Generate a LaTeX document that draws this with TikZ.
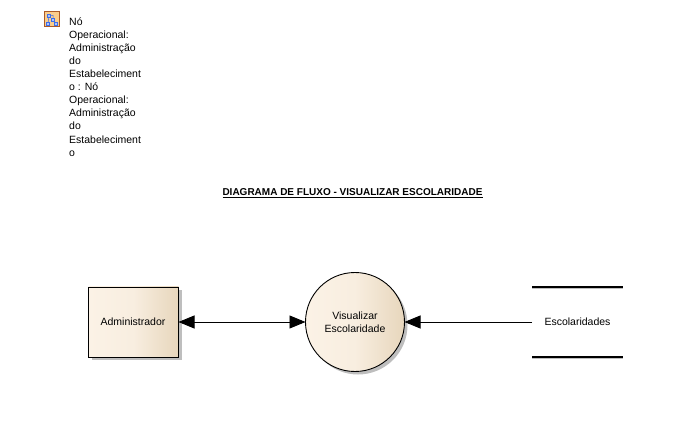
\documentclass[tikz,border=0pt]{standalone}
\usepackage{fontspec}
\setmainfont{Liberation Sans}
\usetikzlibrary{arrows.meta,shadows}
\definecolor{creamleft}{RGB}{251,242,230}
\definecolor{creamright}{RGB}{231,214,188}
\definecolor{shadowgray}{RGB}{190,190,190}
\definecolor{iconorange}{RGB}{250,205,140}
\definecolor{iconedge}{RGB}{170,90,40}
\definecolor{iconblue}{RGB}{60,110,235}
\tikzset{
         label text/.style={font=\fontsize{10.5}{13.1}\selectfont,align=center},
         cream fill/.style={left color=creamleft,right color=creamright,middle color=creamleft!85!creamright},
         flat shadow/.style={drop shadow={shadow xshift=3pt,shadow yshift=-3pt,fill=shadowgray,opacity=1}},
         flow/.style={line width=0.9pt,{Triangle[length=16pt,width=13pt]}-{Triangle[length=16pt,width=13pt]}},
         flow in/.style={line width=0.9pt,-{Triangle[length=16pt,width=13pt]}},
         tree box/.style={draw=iconblue,fill=white!60!iconblue,line width=0.5pt,minimum size=3pt,inner sep=0pt,outer sep=0pt}
        }

\begin{document}
\begin{tikzpicture}[x=1pt,y=-1pt]
\useasboundingbox (0,0) rectangle (694,422);
\node[draw=iconedge,fill=iconorange,line width=1pt,minimum size=15pt,inner sep=0pt,outer sep=0pt] (icon) at (52,19.5) {}; % icon
\node[tree box] (icontop) at (49,15.5) {}; % icon tree
\node[tree box] (iconmid) at (53,19.5) {}; % icon tree
\node[tree box] (iconleft) at (48,23.5) {}; % icon tree
\node[tree box] (iconright) at (56,23.5) {}; % icon tree
\draw[iconblue,line width=0.5pt](icontop)-|(iconmid)(icontop)--(iconleft)(iconmid)--(iconright); % icon wiring
\node[label text,align=left,anchor=north west,inner sep=0pt] (nodename) at (69,17.2) {N\'o\\Operacional:\\Administra\c{c}\~ao\\do\\Estabeleciment\\o : N\'o\\Operacional:\\Administra\c{c}\~ao\\do\\Estabeleciment\\o}; % element name
\node[font=\fontsize{10}{13}\selectfont\bfseries,inner sep=0pt] (title) at (352.5,193) {\underline{DIAGRAMA DE FLUXO - VISUALIZAR ESCOLARIDADE}}; % title
\node[draw,line width=0.9pt,cream fill,flat shadow,minimum width=90pt,minimum height=70pt,outer sep=0pt,label text] (admin) at (133.5,322) {\hspace{-1pt}Administrador}; % entity
\node[draw,circle,line width=0.9pt,cream fill,flat shadow,minimum size=99pt,inner sep=0pt,outer sep=0pt,label text] (visualizar) at (355,322) {Visualizar\\Escolaridade}; % process
\node[minimum width=91pt,minimum height=70pt,outer sep=0pt,label text] (store) at (577.5,322) {Escolaridades}; % data store
\draw[shadowgray,line width=1pt]([yshift=-1.2pt]store.north west)--([yshift=-1.2pt]store.north east)([yshift=-1.2pt]store.south west)--([yshift=-1.2pt]store.south east); % store shadow
\draw[line width=1.3pt](store.north west)--(store.north east)(store.south west)--(store.south east); % store lines
\draw[flow](admin)--(visualizar); % Administrador flow
\draw[flow in](store.west)--(visualizar); % Escolaridades flow
\end{tikzpicture}
\end{document}
